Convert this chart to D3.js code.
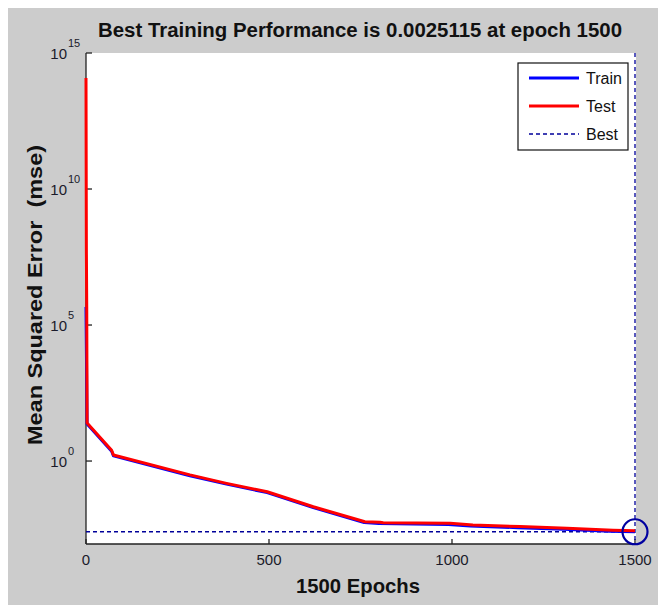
<!DOCTYPE html>
<html><head><meta charset="utf-8">
<script src="https://cdn.jsdelivr.net/npm/d3@7"></script>
<style>body{margin:0;background:#fff}svg{display:block}text{font-family:"Liberation Sans",Arial,sans-serif}</style>
</head><body>
<svg id="c" width="658" height="605"></svg>
<script>
// ---- data ----
const titleText = "Best Training Performance is 0.0025115 at epoch 1500";
const xLabel = "1500 Epochs";
const yLabel = "Mean Squared Error  (mse)";
const xTicks = [0, 500, 1000, 1500];
const yTickExps = [0, 5, 10, 15];
const bestEpoch = 1500;
const bestValue = 0.0025115;
const legendNames = ["Train", "Test", "Best"];

const testEpochs = [0, 1, 2, 3, 70, 75, 284, 384, 495, 621, 762, 803, 812, 995, 1057, 1186, 1314, 1440, 1500];
const testLog10  = [14.08, 7.78, 5.66, 1.40, 0.40, 0.22, -0.51, -0.82, -1.13, -1.68, -2.23, -2.25, -2.27, -2.29, -2.35, -2.41, -2.47, -2.54, -2.56];
const trainEpochs = [0, 3, 70, 75, 284, 384, 495, 621, 760, 800, 990, 1050, 1180, 1305, 1430, 1500];
const trainLog10  = [5.66, 1.36, 0.36, 0.19, -0.54, -0.85, -1.16, -1.71, -2.26, -2.30, -2.33, -2.39, -2.45, -2.51, -2.58, -2.6001];

const testVals = testLog10.map(v => Math.pow(10, v));
const trainVals = trainLog10.map(v => Math.pow(10, v));

// ---- layout ----
const svg = d3.select("#c");
const L = 86, R = 636, T = 53, B = 544;
svg.append("rect").attr("x", 8).attr("y", 8).attr("width", 650).attr("height", 597).attr("fill", "#cccccc");
svg.append("rect").attr("x", L).attr("y", T).attr("width", R - L).attr("height", B - T).attr("fill", "#fff");

const x = d3.scaleLinear().domain([0, 1500]).range([L, 635]);
const y = d3.scaleLog().domain([Math.pow(10, -3.05), 1e15]).range([B, T]);

// axes lines
const axisCol = "#222";
svg.append("line").attr("x1", L).attr("x2", R).attr("y1", B).attr("y2", B).attr("stroke", axisCol).attr("stroke-width", 1.3);
svg.append("line").attr("x1", L).attr("x2", L).attr("y1", T).attr("y2", B).attr("stroke", axisCol).attr("stroke-width", 1.3);

// x ticks
const xg = svg.append("g");
xg.selectAll("line").data(xTicks).join("line")
  .attr("x1", d => x(d)).attr("x2", d => x(d)).attr("y1", B).attr("y2", B - 5)
  .attr("stroke", axisCol).attr("stroke-width", 1.3);
xg.selectAll("text").data(xTicks).join("text")
  .attr("x", d => x(d)).attr("y", 565).attr("text-anchor", "middle")
  .attr("font-size", 15).attr("fill", "#1a1a2a").text(d => d);

// y ticks
const yg = svg.append("g");
yg.selectAll("line").data(yTickExps).join("line")
  .attr("x1", L).attr("x2", L + 6).attr("y1", d => y(Math.pow(10, d))).attr("y2", d => y(Math.pow(10, d)))
  .attr("stroke", axisCol).attr("stroke-width", 1.3);
const yt = yg.selectAll("text").data(yTickExps).join("text")
  .attr("x", 67).attr("y", d => y(Math.pow(10, d)) + 6).attr("text-anchor", "end")
  .attr("font-size", 15).attr("fill", "#1a1a2a");
yt.append("tspan").text("10");
yg.selectAll("text.sup").data(yTickExps).join("text").attr("class", "sup")
  .attr("x", 68).attr("y", d => y(Math.pow(10, d)) - 6)
  .attr("font-size", 11).attr("fill", "#1a1a2a").text(d => d);

// labels
svg.append("text").attr("x", 360).attr("y", 37).attr("text-anchor", "middle")
  .attr("font-size", 20).attr("font-weight", "bold").attr("fill", "#111")
  .attr("textLength", 524).attr("lengthAdjust", "spacingAndGlyphs").text(titleText);
svg.append("text").attr("x", 358).attr("y", 593).attr("text-anchor", "middle")
  .attr("font-size", 21).attr("font-weight", "bold").attr("fill", "#111")
  .attr("textLength", 124).attr("lengthAdjust", "spacingAndGlyphs").text(xLabel);
svg.append("text").attr("transform", "translate(42,295) rotate(-90)").attr("text-anchor", "middle")
  .attr("font-size", 21).attr("font-weight", "bold").attr("fill", "#111").attr("xml:space", "preserve")
  .style("white-space", "pre")
  .attr("textLength", 300).attr("lengthAdjust", "spacingAndGlyphs").text(yLabel);

// best lines
const bestCol = "#00009a";
svg.append("line").attr("x1", L).attr("x2", x(bestEpoch)).attr("y1", y(bestValue)).attr("y2", y(bestValue))
  .attr("stroke", bestCol).attr("stroke-width", 1.3).attr("stroke-dasharray", "4,3");
svg.append("line").attr("x1", x(bestEpoch)).attr("x2", x(bestEpoch)).attr("y1", T).attr("y2", B)
  .attr("stroke", bestCol).attr("stroke-width", 1.3).attr("stroke-dasharray", "4,3");

// series
const line = d3.line().x(d => x(d[0])).y(d => y(d[1]));
svg.append("path").datum(d3.zip(trainEpochs, trainVals)).attr("d", line)
  .attr("fill", "none").attr("stroke", "#0000ff").attr("stroke-width", 3).attr("stroke-linejoin", "round");
svg.append("path").datum(d3.zip(testEpochs, testVals)).attr("d", line)
  .attr("fill", "none").attr("stroke", "#ff0000").attr("stroke-width", 3).attr("stroke-linejoin", "round");

// best circle
svg.append("circle").attr("cx", x(bestEpoch)).attr("cy", y(bestValue)).attr("r", 12.5)
  .attr("fill", "none").attr("stroke", "#0000a0").attr("stroke-width", 2.2);

// legend
const lg = svg.append("g");
lg.append("rect").attr("x", 518).attr("y", 63).attr("width", 110).attr("height", 87)
  .attr("fill", "#fff").attr("stroke", "#111").attr("stroke-width", 1.2);
const legCols = ["#0000ff", "#ff0000", bestCol];
const legW = [3, 3, 1.3];
const legDash = [null, null, "4,3"];
legendNames.forEach((n, i) => {
  const yy = 78 + i * 28;
  lg.append("line").attr("x1", 529).attr("x2", 579).attr("y1", yy).attr("y2", yy)
    .attr("stroke", legCols[i]).attr("stroke-width", legW[i]).attr("stroke-dasharray", legDash[i]);
  lg.append("text").attr("x", 586).attr("y", yy + 6).attr("font-size", 16).attr("fill", "#111").text(n);
});
</script>
</body></html>
